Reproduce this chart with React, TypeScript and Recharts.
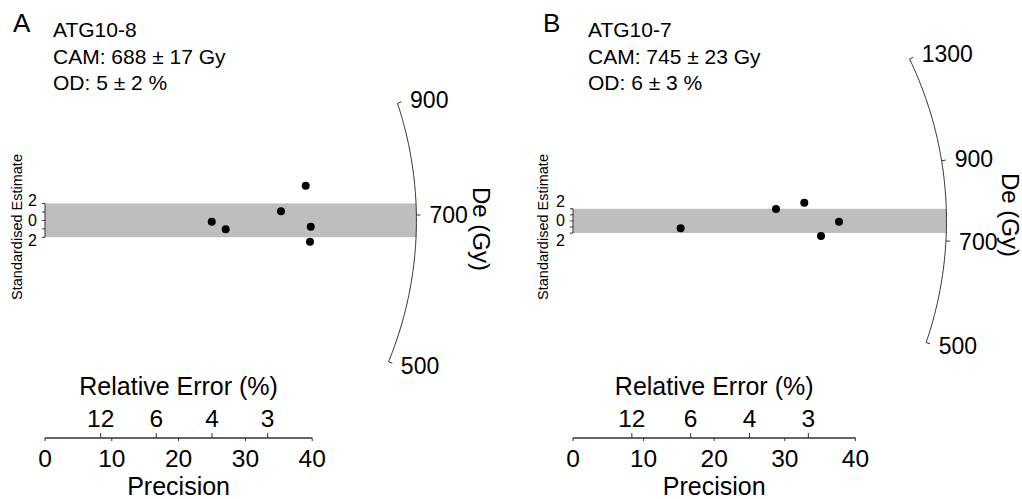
import React from 'react';
import { ScatterChart, Scatter, XAxis, YAxis, ReferenceArea, ReferenceLine } from 'recharts';

const FONT = '"Liberation Sans", Arial, Helvetica, sans-serif';
const LINE = '#333333';

// ---------- data ----------
const PRECISION_TICKS = [0, 10, 20, 30, 40];
const REL_ERROR_TICKS = [12, 6, 4, 3];
const Z_TICKS = [-2, -1, 0, 1, 2];

// Panel A: ATG10-8
const A_TITLE = ['ATG10-8', 'CAM: 688 \u00b1 17 Gy', 'OD: 5 \u00b1 2 %'];
const A_PRECISION = [24.96, 27.05, 35.33, 39.03, 39.78, 39.67];
const A_STD_EST = [-0.15, -1.05, 1.08, 4.11, -0.75, -2.52];
const A_DE_TICKS = [500, 700, 900];
const A_CENTRAL = 692;

// Panel B: ATG10-7
const B_TITLE = ['ATG10-7', 'CAM: 745 \u00b1 23 Gy', 'OD: 6 \u00b1 3 %'];
const B_PRECISION = [15.25, 28.75, 32.76, 35.13, 37.68];
const B_STD_EST = [-1.21, 1.95, 2.98, -2.48, -0.13];
const B_DE_TICKS = [500, 700, 900, 1300];
const B_CENTRAL = 745;

type PanelCfg = {
  letter: string;
  title: string[];
  precision: number[];
  stdEst: number[];
  deTicks: number[];
  central: number;
  rx: number;
  rz: number;
  zDomain: [number, number];
  zPerPx: number;
  yAxisWidth: number;
  marginRight: number;
  left: number;
  labelShift: number;
  letterLeft: number;
  titleLeft: number;
  se: { x: number; y: number };
  de: { x: number; y: number };
};

const PANELS: PanelCfg[] = [
  {
    letter: 'A', title: A_TITLE, precision: A_PRECISION, stdEst: A_STD_EST,
    deTicks: A_DE_TICKS, central: A_CENTRAL, rx: 55.6, rz: 44.0,
    zDomain: [-25.75, 21.59], zPerPx: 1 / 8.45, yAxisWidth: 45, marginRight: 65.2, left: 0,
    labelShift: 3, letterLeft: 13, titleLeft: 53,
    se: { x: 16.7, y: 227 }, de: { x: 481, y: 229 },
  },
  {
    letter: 'B', title: B_TITLE, precision: B_PRECISION, stdEst: B_STD_EST,
    deTicks: B_DE_TICKS, central: B_CENTRAL, rx: 52.9, rz: 61.25,
    zDomain: [-35.6, 30], zPerPx: 1 / 6.098, yAxisWidth: 62, marginRight: 25.4, left: 511,
    labelShift: 7.5, letterLeft: 543, titleLeft: 588,
    se: { x: 543.3, y: 227 }, de: { x: 1010, y: 215 },
  },
];

// point on the radial De axis (a ray from the origin with slope ln(De/central))
function arcPoint(de: number, central: number, rx: number, rz: number) {
  const s = Math.log(de / central);
  const x = 1 / Math.sqrt(1 / (rx * rx) + (s * s) / (rz * rz));
  return { x, z: s * x };
}

const ZTick = (props: any) => {
  const { x, y, payload, shift } = props;
  const v = payload.value;
  if (v % 2 !== 0) return <g />;
  const dy = v > 0 ? -shift : v < 0 ? shift : 0;
  return (
    <text x={x} y={y + dy} textAnchor="end" dominantBaseline="central" fontSize={16} fontFamily={FONT} fill="#000">
      {Math.abs(v)}
    </text>
  );
};

function RadialPanel({ p }: { p: PanelCfg }) {
  const points = p.precision.map((x, i) => ({ x, z: p.stdEst[i] }));
  const lo = Math.log(Math.min(...p.deTicks));
  const hi = Math.log(Math.max(...p.deTicks));
  const N = 120;
  const arc = Array.from({ length: N + 1 }, (_, i) =>
    arcPoint(Math.exp(lo + ((hi - lo) * i) / N), p.central, p.rx, p.rz)
  );
  const tickPts = p.deTicks.map((d) => arcPoint(d, p.central, p.rx, p.rz));
  const labels = tickPts.map((t, i) => ({ x: t.x * 1.03, z: t.z * 1.03, label: String(p.deTicks[i]) }));
  const zMin = p.zDomain[0];
  const reTickTop = zMin + 5 * p.zPerPx;
  const tickFont = { fontSize: 24.5, fill: '#000', fontFamily: FONT };

  return (
    <div style={{ position: 'absolute', left: p.left, top: 0, width: 511, height: 499 }}>
      <ScatterChart width={511} height={499} margin={{ top: 38, right: p.marginRight, bottom: 0, left: 0 }}>
        <XAxis
          xAxisId="p" type="number" dataKey="x" domain={[0, 60]} ticks={PRECISION_TICKS} interval={0}
          axisLine={false} tickLine={{ stroke: LINE }} tickSize={3} tickMargin={9} height={61} tick={tickFont}
        />
        <YAxis
          yAxisId="z" type="number" dataKey="z" domain={p.zDomain} ticks={Z_TICKS} interval={0}
          width={p.yAxisWidth} axisLine={false} tickLine={{ stroke: LINE }} tickSize={3} tickMargin={5}
          tick={(tp: any) => <ZTick {...tp} shift={p.labelShift} />}
        />
        <ReferenceArea xAxisId="p" yAxisId="z" x1={0} x2={p.rx} y1={-2} y2={2} fill="#bebebe" fillOpacity={1} stroke="none" />
        <ReferenceLine
          xAxisId="p" yAxisId="z" segment={[{ x: 0, y: -2 }, { x: 0, y: 2 }]} stroke={LINE} strokeWidth={1} ifOverflow="visible"
        />
        <ReferenceLine
          xAxisId="p" yAxisId="z" segment={[{ x: 0, y: zMin }, { x: 40, y: zMin }]} stroke={LINE} strokeWidth={1}
          ifOverflow="visible"
          label={{ value: 'Precision', position: 'bottom', offset: 39, fontSize: 25, fill: '#000', fontFamily: FONT }}
        />
        <ReferenceLine
          xAxisId="p" yAxisId="z" segment={[{ x: 0, y: zMin }, { x: 40, y: zMin }]} stroke={LINE} strokeWidth={1}
          ifOverflow="visible"
          label={{ value: 'Relative Error (%)', position: 'top', offset: 43.5, fontSize: 25, fill: '#000', fontFamily: FONT }}
        />
        {REL_ERROR_TICKS.map((r) => (
          <ReferenceLine
            key={'re' + r} xAxisId="p" yAxisId="z" ifOverflow="visible"
            segment={[{ x: 100 / r, y: zMin }, { x: 100 / r, y: reTickTop }]} stroke={LINE} strokeWidth={1}
            label={{ value: String(r), position: 'top', offset: 6, fontSize: 24.5, fill: '#000', fontFamily: FONT }}
          />
        ))}
        {tickPts.map((t, i) => (
          <ReferenceLine
            key={i} xAxisId="p" yAxisId="z" ifOverflow="visible"
            segment={[{ x: t.x, y: t.z }, { x: t.x * 1.011, y: t.z * 1.011 }]} stroke={LINE} strokeWidth={1}
          />
        ))}
        <Scatter
          xAxisId="p" yAxisId="z" data={arc} dataKey="z" isAnimationActive={false}
          line={{ stroke: LINE, strokeWidth: 1 }} lineType="joint" shape={() => <g />}
        />
        <Scatter
          xAxisId="p" yAxisId="z" data={labels} dataKey="z" isAnimationActive={false}
          shape={(sp: any) => (
            <text x={sp.cx + 2} y={sp.cy} dominantBaseline="central" fontSize={23} fontFamily={FONT} fill="#000">
              {sp.payload.label}
            </text>
          )}
        />
        <Scatter
          xAxisId="p" yAxisId="z" data={points} dataKey="z" isAnimationActive={false}
          shape={(sp: any) => <circle cx={sp.cx} cy={sp.cy} r={4} fill="#000" />}
        />
      </ScatterChart>
    </div>
  );
}

export default function App() {
  return (
    <div style={{ position: 'absolute', left: 0, top: 0, width: 1022, height: 499, background: '#fff', fontFamily: FONT, color: '#000' }}>
      {PANELS.map((p) => (
        <RadialPanel key={p.letter} p={p} />
      ))}
      {PANELS.map((p) => (
        <React.Fragment key={p.letter + 't'}>
          <div style={{ position: 'absolute', left: p.letterLeft, top: 9.7, fontSize: 26, lineHeight: '26px', whiteSpace: 'nowrap' }}>
            {p.letter}
          </div>
          <div style={{ position: 'absolute', left: p.titleLeft, top: 17.2, fontSize: 21, lineHeight: '26.5px', whiteSpace: 'nowrap' }}>
            {p.title.map((t, i) => (
              <div key={i}>{t}</div>
            ))}
          </div>
          <div
            style={{
              position: 'absolute', left: p.se.x, top: p.se.y, fontSize: 14.5, lineHeight: 1, whiteSpace: 'nowrap',
              transform: 'translate(-50%, -50%) rotate(-90deg)',
            }}
          >
            Standardised Estimate
          </div>
          <div
            style={{
              position: 'absolute', left: p.de.x, top: p.de.y, fontSize: 24, lineHeight: 1, whiteSpace: 'nowrap',
              transform: 'translate(-50%, -50%) rotate(90deg)',
            }}
          >
            De (Gy)
          </div>
        </React.Fragment>
      ))}
    </div>
  );
}
